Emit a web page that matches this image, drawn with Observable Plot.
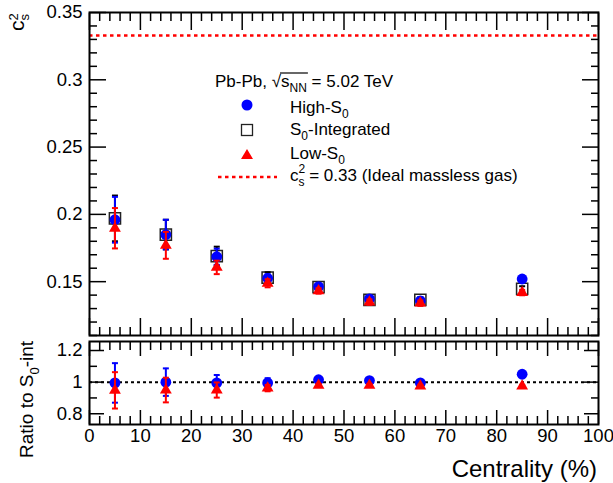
<!DOCTYPE html>
<html><head><meta charset="utf-8">
<script src="https://cdn.jsdelivr.net/npm/d3@7"></script>
<script src="https://cdn.jsdelivr.net/npm/@observablehq/plot@0.6"></script>
<style>
body{margin:0;background:#fff;}
#wrap{position:relative;width:613px;height:483px;font-family:"Liberation Sans",Arial,Helvetica,sans-serif;}
#wrap svg{position:absolute;left:0;overflow:visible;}
</style></head><body><div id="wrap"></div>
<script>
// ---- data ----
const centrality = [5, 15, 25, 35, 45, 55, 65, 85];
const highS0    = [0.196, 0.185, 0.1685, 0.1525, 0.1463, 0.1372, 0.1357, 0.152];
const highS0Err = [0.017, 0.011, 0.006, 0.003, 0.002, 0.002, 0.002, 0.002];
const intS0     = [0.197, 0.185, 0.169, 0.153, 0.146, 0.1365, 0.1365, 0.1446];
const intS0Err  = [0.017, 0.011, 0.007, 0.004, 0.002, 0.002, 0.002, 0.002];
const lowS0     = [0.1897, 0.177, 0.1606, 0.1488, 0.1431, 0.1348, 0.134, 0.1419];
const lowS0Err  = [0.015, 0.010, 0.005, 0.003, 0.002, 0.002, 0.002, 0.002];
const ratioHigh    = [0.995, 1.0, 0.995, 0.995, 1.015, 1.01, 0.995, 1.05];
const ratioHighErr = [0.125, 0.087, 0.05, 0.03, 0.01, 0.01, 0.01, 0.01];
const ratioLow     = [0.948, 0.95, 0.95, 0.962, 0.98, 0.98, 0.975, 0.975];
const ratioLowErr  = [0.115, 0.078, 0.048, 0.02, 0.008, 0.008, 0.008, 0.008];
const idealGas = 0.333;
const ratioRef = 1;

const xMajor = [0,10,20,30,40,50,60,70,80,90,100];
const xMinor = d3.range(0, 101, 2).filter(v => v % 10 !== 0);
const yTopMajor = [0.15, 0.2, 0.25, 0.3, 0.35];
const yTopMinor = d3.range(11, 35).filter(v => v % 5 !== 0).map(v => v / 100);
const yBotMajor = [0.8, 1, 1.2];
const yBotMinor = [0.9, 1.1];

const FONT = '"Liberation Sans", Arial, Helvetica, sans-serif';
const BLUE = "#0000ff", RED = "#ff0000";

const mk = (ys, es) => centrality.map((x, i) => ({x, y: ys[i], e: es[i]}));
const high = mk(highS0, highS0Err), integ = mk(intS0, intS0Err), low = mk(lowS0, lowS0Err);
const rHigh = mk(ratioHigh, ratioHighErr), rLow = mk(ratioLow, ratioLowErr);

const cap = {draw(ctx) { ctx.moveTo(-3, 0); ctx.lineTo(3, 0); }};

function errMarks(data, color) {
  return [
    Plot.ruleX(data, {x: "x", y1: d => d.y - d.e, y2: d => d.y + d.e, stroke: color, strokeWidth: 2}),
    Plot.dot(data, {x: "x", y: d => d.y - d.e, symbol: cap, stroke: color, strokeWidth: 2, r: 3}),
    Plot.dot(data, {x: "x", y: d => d.y + d.e, symbol: cap, stroke: color, strokeWidth: 2, r: 3})
  ];
}
const noText = () => "";
function tickAxes(yMaj, yMin, xMajLen, xMinLen, yMajLen, yMinLen) {
  const o = {label: null, strokeWidth: 1.5, tickFormat: noText};
  return [
    Plot.axisX({...o, anchor: "bottom", ticks: xMajor, tickSize: -xMajLen}),
    Plot.axisX({...o, anchor: "bottom", ticks: xMinor, tickSize: -xMinLen}),
    Plot.axisX({...o, anchor: "top", ticks: xMajor, tickSize: -xMajLen}),
    Plot.axisX({...o, anchor: "top", ticks: xMinor, tickSize: -xMinLen}),
    Plot.axisY({...o, anchor: "left", ticks: yMaj, tickSize: -yMajLen}),
    Plot.axisY({...o, anchor: "left", ticks: yMin, tickSize: -yMinLen}),
    Plot.axisY({...o, anchor: "right", ticks: yMaj, tickSize: -yMajLen}),
    Plot.axisY({...o, anchor: "right", ticks: yMin, tickSize: -yMinLen})
  ];
}
const fmt = d => String(Math.round(d * 100) / 100);

const topPlot = Plot.plot({
  width: 613, height: 340,
  marginTop: 12, marginBottom: 5, marginLeft: 89, marginRight: 15,
  x: {domain: [0, 100]},
  y: {domain: [0.11, 0.35]},
  style: {fontFamily: FONT, fontSize: "18px", color: "black", background: "none"},
  marks: [
    ...tickAxes(yTopMajor, yTopMinor, 17, 8, 17, 8),
    Plot.axisY({anchor: "left", ticks: yTopMajor, tickSize: 0, tickPadding: 7, tickFormat: fmt, label: null, fontSize: 18.5}),
    Plot.ruleY([idealGas], {stroke: RED, strokeWidth: 2.5, strokeDasharray: "3.5,3.5"}),
    Plot.dot(integ, {x: "x", y: "y", symbol: "square", r: 6.3, stroke: "#222", strokeWidth: 1.5, fill: "none"}),
    ...errMarks(integ, "#000"),
    ...errMarks(high, BLUE),
    Plot.dot(high, {x: "x", y: "y", symbol: "circle", r: 5.4, fill: BLUE}),
    ...errMarks(low, RED),
    Plot.dot(low, {x: "x", y: "y", symbol: "triangle", r: 4.4, fill: RED}),
    Plot.frame({stroke: "black", strokeWidth: 2})
  ]
});
topPlot.style.top = "0px";

const botPlot = Plot.plot({
  width: 613, height: 154,
  marginTop: 12, marginBottom: 59, marginLeft: 89, marginRight: 15,
  x: {domain: [0, 100]},
  y: {domain: [0.732, 1.257]},
  style: {fontFamily: FONT, fontSize: "18px", color: "black", background: "none"},
  marks: [
    ...tickAxes(yBotMajor, yBotMinor, 14, 8, 15, 8),
    Plot.axisY({anchor: "left", ticks: yBotMajor, tickSize: 0, tickPadding: 7, tickFormat: fmt, label: null, fontSize: 18.5}),
    Plot.axisX({anchor: "bottom", ticks: xMajor, tickSize: 0, tickPadding: 4, tickFormat: fmt, label: null, fontSize: 18.5}),
    Plot.ruleY([ratioRef], {stroke: "black", strokeWidth: 2, strokeDasharray: "3,3"}),
    ...errMarks(rHigh, BLUE),
    Plot.dot(rHigh, {x: "x", y: "y", symbol: "circle", r: 5.4, fill: BLUE}),
    ...errMarks(rLow, RED),
    Plot.dot(rLow, {x: "x", y: "y", symbol: "triangle", r: 4.4, fill: RED}),
    Plot.frame({stroke: "black", strokeWidth: 2})
  ]
});
botPlot.style.top = "329px";

const wrap = document.getElementById("wrap");
wrap.appendChild(topPlot);
wrap.appendChild(botPlot);

// sequential rich text helper
function seq(parent, x, y, parts, baseSize) {
  let cx = x;
  const els = [];
  for (const p of parts) {
    const el = parent.append("text")
      .attr("x", cx).attr("y", y + (p.dy || 0))
      .attr("text-anchor", "start")
      .attr("font-size", p.size || baseSize)
      .attr("font-family", FONT).attr("fill", "black")
      .text(p.t);
    const w = el.node().getComputedTextLength();
    els.push({x: cx, w});
    if (!p.stack) cx += w;
  }
  return {end: cx, els};
}

const ts = d3.select(topPlot);
// y label c_s^2
const gy = ts.append("g").attr("transform", "translate(24,0) rotate(-90)");
seq(gy, -31, 0, [{t: "c"}, {t: "2", size: 13, dy: -6, stack: true}, {t: "s", size: 13, dy: 5}], 21);

// legend
const L = ts.append("g");
const head = seq(L, 215, 87, [
  {t: "Pb-Pb, "}, {t: "\u221A"}, {t: "s"}, {t: "NN", size: 12, dy: 5}, {t: " = 5.02 TeV"}
], 17);
L.append("line").attr("x1", head.els[1].x + head.els[1].w - 1).attr("x2", head.els[3].x + head.els[3].w + 1)
  .attr("y1", 73).attr("y2", 73).attr("stroke", "black").attr("stroke-width", 1.2);
L.append("circle").attr("cx", 247).attr("cy", 105).attr("r", 5.5).attr("fill", BLUE);
L.append("rect").attr("x", 241.5).attr("y", 124.5).attr("width", 11).attr("height", 11)
  .attr("fill", "none").attr("stroke", "#222").attr("stroke-width", 1.3);
L.append("path").attr("d", "M241,159L247,149L253,159Z").attr("fill", RED);
L.append("line").attr("x1", 218).attr("x2", 277).attr("y1", 177).attr("y2", 177)
  .attr("stroke", RED).attr("stroke-width", 2.5).attr("stroke-dasharray", "3.5,3.5");
seq(L, 290, 113, [{t: "High-S"}, {t: "0", size: 12, dy: 5}], 17);
seq(L, 290, 135, [{t: "S"}, {t: "0", size: 12, dy: 5}, {t: "-Integrated"}], 17);
seq(L, 290, 159, [{t: "Low-S"}, {t: "0", size: 12, dy: 5}], 17);
seq(L, 290, 181, [{t: "c"}, {t: "2", size: 12, dy: -8, stack: true}, {t: "s", size: 12, dy: 5}, {t: " = 0.33 (Ideal massless gas)"}], 17);

// bottom labels
const bs = d3.select(botPlot);
const gr = bs.append("g").attr("transform", "translate(33,0) rotate(-90)");
seq(gr, -(458 - 329), 0, [{t: "Ratio to S"}, {t: "0", size: 13, dy: 6}, {t: "-int"}], 19);
bs.append("text").attr("x", 597).attr("y", 477 - 329).attr("text-anchor", "end")
  .attr("font-size", 24).attr("font-family", FONT).attr("fill", "black").text("Centrality (%)");
</script>
</body></html>
